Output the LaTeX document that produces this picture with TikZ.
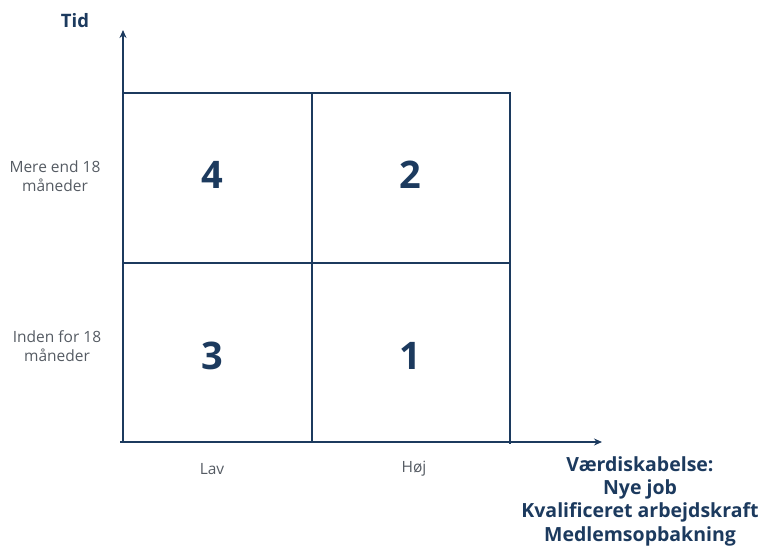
\documentclass[tikz,border=0pt]{standalone}
\usepackage{fontspec}
\setmainfont{Open Sans}
\usetikzlibrary{arrows.meta}
\definecolor{navy}{HTML}{1C3A5E}
\definecolor{lbl}{HTML}{555B63}
\tikzset{
  axis/.style={draw=navy, line width=1.8pt, -{Stealth[length=8pt,width=7pt]}},
  gridline/.style={draw=navy, line width=1.6pt},
  num/.style={text=navy, font=\fontsize{38}{42}\selectfont\bfseries},
  side/.style={text=lbl, font=\fontsize{15.5}{19.5}\selectfont, align=center},
  axlbl/.style={text=lbl, font=\fontsize{15.5}{19}\selectfont},
  ttl/.style={text=navy, font=\fontsize{19.5}{23.3}\selectfont\bfseries, align=center}
}
\begin{document}
\begin{tikzpicture}[x=1pt,y=-1pt]
\useasboundingbox (0,0) rectangle (761,547);
\coordinate (O) at (123,442);
\coordinate (ytip) at (123,30);
\coordinate (xstart) at (120,442);
\coordinate (xtip) at (602,442);
\coordinate (tl) at (123,93);
\coordinate (tr) at (510,93);
\coordinate (br) at (510,444);
\coordinate (ml) at (123,263);
\coordinate (mr) at (510,263);
\coordinate (mt) at (312,93);
\coordinate (mb) at (312,441);
\draw[gridline] (tl) -- (tr) -- (br);
\draw[gridline] (ml) -- (mr);
\draw[gridline] (mt) -- (mb);
\draw[axis] (O) -- (ytip);
\draw[axis] (xstart) -- (xtip);
\node[num] (n4) at (212,175) {4};
\node[num] (n2) at (410,175) {2};
\node[num] (n3) at (212,356) {3};
\node[num] (n1) at (410,356) {1};
\node[text=navy, font=\fontsize{18.5}{22}\selectfont\bfseries] (tid) at (75,21) {Tid};
\node[side] (mere) at (55,176) {Mere end 18\\måneder};
\node[side] (inden) at (57,346) {Inden for 18\\måneder};
\node[axlbl] (lav) at (212,469) {Lav};
\node[axlbl] (hoj) at (414,469) {Høj};
\node[ttl, anchor=north] (vaerdi) at (640,453) {Værdiskabelse:\\Nye job\\Kvalificeret arbejdskraft\\Medlemsopbakning};
\end{tikzpicture}
\end{document}
